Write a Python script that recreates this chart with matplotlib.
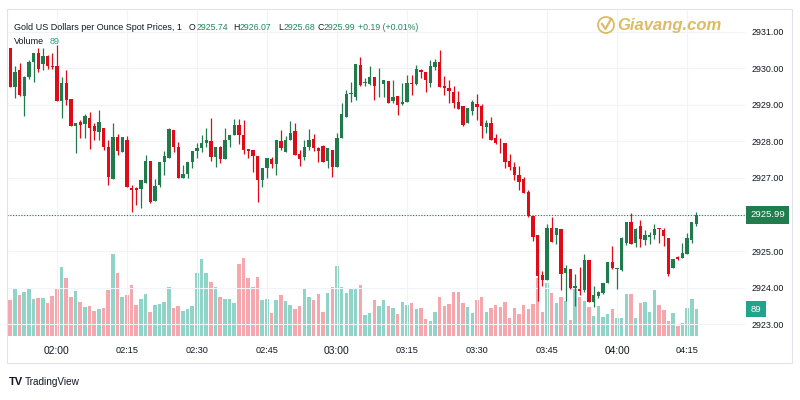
import matplotlib
matplotlib.use("Agg")
import numpy as np
import matplotlib.pyplot as plt
from matplotlib.patches import Circle, Rectangle

plt.rcParams["font.family"] = ["Liberation Sans", "DejaVu Sans"]

# 1-minute candles, 01:50 .. 04:17
opens = [2930.55, 2929.50, 2929.95, 2929.24, 2929.75, 2930.16, 2930.43, 2930.12, 2930.34, 2930.06,
         2930.06, 2929.11, 2929.59, 2929.15, 2928.42, 2928.54, 2928.47, 2928.65, 2928.42, 2928.26,
         2928.36, 2927.84, 2926.96, 2928.13, 2927.72, 2928.05, 2926.73, 2926.73, 2926.69, 2926.85,
         2927.47, 2926.37, 2926.80, 2927.43, 2927.56, 2928.31, 2927.85, 2926.99, 2927.12, 2927.44,
         2927.74, 2927.81, 2927.95, 2928.01, 2927.58, 2927.85, 2927.53, 2928.05, 2928.17, 2928.45,
         2928.17, 2927.80, 2927.76, 2927.60, 2926.94, 2927.26, 2927.53, 2927.38, 2928.01, 2927.72,
         2928.05, 2928.28, 2927.65, 2927.58, 2927.85, 2928.06, 2927.81, 2927.87, 2927.47, 2927.76,
         2927.31, 2928.10, 2928.68, 2929.29, 2929.22, 2930.09, 2929.59, 2929.57, 2929.77, 2929.56,
         2929.56, 2929.66, 2929.11, 2929.24, 2929.02, 2929.07, 2929.60, 2929.57, 2929.94, 2929.89,
         2929.61, 2930.03, 2930.17, 2929.52, 2929.47, 2929.36, 2929.07, 2928.97, 2928.51, 2928.84,
         2929.01, 2928.97, 2928.40, 2928.51, 2928.10, 2927.94, 2927.96, 2927.47, 2927.29, 2927.08,
         2926.96, 2926.61, 2925.95, 2925.43, 2924.34, 2924.20, 2925.64, 2925.45, 2925.60, 2924.40,
         2924.50, 2924.00, 2923.97, 2923.93, 2924.75, 2923.61, 2923.76, 2923.86, 2924.14, 2924.70,
         2924.51, 2924.49, 2925.22, 2925.80, 2925.21, 2925.68, 2925.30, 2925.39, 2925.43, 2925.62,
         2925.59, 2925.37, 2924.55, 2924.84, 2924.80, 2924.91, 2925.30, 2925.74]
highs = [2930.55, 2930.06, 2930.14, 2929.80, 2930.23, 2930.43, 2930.55, 2930.55, 2930.36, 2930.41,
         2930.64, 2929.77, 2929.95, 2929.15, 2928.49, 2928.58, 2928.75, 2928.81, 2928.49, 2928.86,
         2928.36, 2928.04, 2928.51, 2928.20, 2928.11, 2928.16, 2926.80, 2926.76, 2926.94, 2927.63,
         2927.47, 2926.96, 2927.43, 2927.74, 2928.36, 2928.31, 2927.99, 2927.35, 2927.44, 2927.74,
         2927.96, 2928.17, 2928.36, 2928.63, 2927.85, 2927.87, 2928.38, 2928.17, 2928.61, 2928.61,
         2928.58, 2927.80, 2927.76, 2927.60, 2927.26, 2927.56, 2927.58, 2928.05, 2928.31, 2928.15,
         2928.57, 2928.51, 2927.76, 2928.04, 2928.33, 2928.19, 2927.84, 2927.90, 2927.81, 2927.76,
         2928.24, 2929.04, 2929.41, 2929.63, 2930.12, 2930.30, 2929.73, 2930.06, 2929.77, 2930.00,
         2929.68, 2929.66, 2929.68, 2929.24, 2929.59, 2929.82, 2929.82, 2930.09, 2929.97, 2929.89,
         2930.23, 2930.25, 2930.50, 2929.79, 2929.68, 2929.52, 2929.39, 2928.97, 2928.90, 2929.13,
         2929.29, 2929.02, 2928.58, 2928.66, 2928.19, 2928.08, 2927.96, 2927.65, 2927.44, 2927.32,
         2927.03, 2926.67, 2925.95, 2925.43, 2924.47, 2925.74, 2925.94, 2925.64, 2925.60, 2924.61,
         2924.50, 2924.38, 2924.57, 2924.93, 2924.75, 2924.06, 2923.90, 2924.14, 2924.70, 2925.13,
         2924.53, 2925.40, 2925.80, 2926.05, 2925.62, 2925.84, 2925.57, 2925.52, 2925.74, 2925.62,
         2925.62, 2925.37, 2924.79, 2924.86, 2925.22, 2925.50, 2925.80, 2926.07]
lows = [2929.50, 2929.18, 2929.25, 2928.69, 2929.70, 2929.63, 2929.91, 2929.94, 2929.99, 2929.99,
        2929.11, 2928.63, 2929.00, 2928.42, 2927.69, 2928.08, 2928.08, 2927.78, 2928.04, 2928.04,
        2927.76, 2926.80, 2926.96, 2927.63, 2927.70, 2926.76, 2926.07, 2926.26, 2926.19, 2926.85,
        2926.32, 2926.37, 2926.76, 2927.08, 2927.56, 2927.72, 2927.01, 2926.99, 2926.99, 2927.26,
        2927.56, 2927.72, 2927.85, 2927.47, 2927.31, 2927.40, 2927.53, 2927.84, 2928.17, 2927.92,
        2927.65, 2927.56, 2927.17, 2926.35, 2926.76, 2926.99, 2927.27, 2927.08, 2927.76, 2927.72,
        2928.03, 2927.63, 2927.32, 2927.49, 2927.76, 2927.74, 2927.44, 2927.44, 2927.26, 2927.03,
        2927.31, 2928.10, 2928.68, 2929.08, 2929.13, 2929.52, 2929.52, 2929.54, 2929.13, 2929.22,
        2929.22, 2929.04, 2929.04, 2928.72, 2929.00, 2929.07, 2929.27, 2929.55, 2929.73, 2929.34,
        2929.50, 2929.95, 2929.48, 2929.27, 2929.04, 2928.90, 2928.88, 2928.42, 2928.51, 2928.72,
        2928.58, 2928.08, 2928.24, 2928.04, 2927.92, 2927.67, 2927.26, 2927.21, 2926.94, 2926.68,
        2926.58, 2925.94, 2925.28, 2923.63, 2924.06, 2924.20, 2925.25, 2925.19, 2923.93, 2923.65,
        2923.97, 2923.49, 2923.79, 2923.88, 2923.61, 2923.47, 2923.72, 2923.82, 2924.14, 2924.52,
        2923.97, 2924.47, 2925.18, 2925.19, 2925.12, 2925.11, 2925.16, 2925.19, 2925.32, 2925.22,
        2925.13, 2924.32, 2924.55, 2924.77, 2924.80, 2924.91, 2925.23, 2925.68]
closes = [2929.50, 2929.89, 2929.27, 2929.77, 2930.16, 2930.41, 2929.97, 2930.34, 2930.06, 2930.04,
          2929.11, 2929.59, 2929.13, 2928.42, 2928.49, 2928.45, 2928.69, 2928.38, 2928.29, 2928.54,
          2927.85, 2927.03, 2928.11, 2927.74, 2928.11, 2926.76, 2926.67, 2926.67, 2926.94, 2927.47,
          2926.35, 2926.78, 2927.43, 2927.61, 2928.33, 2927.85, 2927.01, 2927.12, 2927.44, 2927.74,
          2927.82, 2927.95, 2928.04, 2927.58, 2927.85, 2927.53, 2928.05, 2928.17, 2928.45, 2928.17,
          2927.76, 2927.74, 2927.60, 2926.94, 2927.26, 2927.56, 2927.38, 2928.05, 2927.81, 2928.04,
          2928.22, 2927.63, 2927.53, 2927.85, 2928.04, 2927.81, 2927.74, 2927.44, 2927.81, 2927.29,
          2928.10, 2928.75, 2929.30, 2929.31, 2930.12, 2929.54, 2929.63, 2929.75, 2929.52, 2929.57,
          2929.68, 2929.06, 2929.21, 2928.99, 2929.09, 2929.61, 2929.58, 2929.97, 2929.89, 2929.68,
          2930.06, 2930.16, 2929.48, 2929.45, 2929.39, 2929.06, 2928.89, 2928.45, 2928.90, 2929.07,
          2928.95, 2928.42, 2928.49, 2928.04, 2927.95, 2927.92, 2927.44, 2927.29, 2927.08, 2926.89,
          2926.58, 2925.95, 2925.39, 2924.31, 2924.20, 2925.64, 2925.25, 2925.62, 2924.38, 2924.54,
          2924.00, 2924.06, 2923.91, 2924.77, 2923.61, 2923.79, 2923.88, 2924.14, 2924.70, 2924.54,
          2924.53, 2925.35, 2925.80, 2925.19, 2925.60, 2925.32, 2925.43, 2925.43, 2925.60, 2925.60,
          2925.41, 2924.38, 2924.79, 2924.79, 2924.95, 2925.37, 2925.80, 2925.99]
volumes = [119, 157, 135, 144, 157, 121, 124, 124, 108, 132,
           157, 229, 190, 130, 149, 111, 94, 99, 83, 88,
           91, 152, 270, 209, 128, 135, 168, 102, 121, 139,
           79, 101, 106, 112, 161, 91, 99, 83, 88, 100,
           209, 254, 209, 177, 161, 128, 121, 121, 108, 237,
           256, 190, 161, 194, 119, 121, 75, 119, 135, 116,
           102, 88, 99, 154, 128, 119, 139, 79, 141, 163,
           232, 161, 141, 157, 154, 168, 69, 75, 119, 99,
           119, 99, 91, 73, 111, 102, 108, 88, 91, 57,
           51, 80, 130, 99, 104, 144, 146, 110, 95, 77,
           119, 130, 80, 91, 102, 97, 113, 58, 91, 73,
           102, 88, 106, 190, 80, 176, 143, 108, 128, 117,
           53, 158, 128, 117, 97, 66, 99, 64, 73, 88,
           60, 60, 139, 139, 60, 110, 113, 79, 152, 102,
           86, 51, 77, 33, 44, 91, 121, 89]

start_time = "01:50"
tick_labels = ["02:00", "02:15", "02:30", "02:45", "03:00", "03:15", "03:30", "03:45", "04:00", "04:15"]
price_ticks = [2923, 2924, 2925, 2926, 2927, 2928, 2929, 2930, 2931]

UP, DOWN = "#1f7a4c", "#e00b16"
VOL_UP, VOL_DOWN = "#8fd4c6", "#f6a6ad"
GRID, BORDER, TXT = "#f0f3fa", "#e0e3eb", "#131722"
VALUE_GREEN = "#23855a"


def to_min(s):
    hh, mm = s.split(":")
    return int(hh) * 60 + int(mm)


o = np.array(opens)
h = np.array(highs)
l = np.array(lows)
c = np.array(closes)
v = np.array(volumes)
x = np.arange(len(o))
up = c >= o
colors = np.where(up, UP, DOWN)
vol_colors = np.where(up, VOL_UP, VOL_DOWN)
tick_pos = [to_min(t) - to_min(start_time) for t in tick_labels]

fig = plt.figure(figsize=(8, 4), dpi=100)
W, H = 800, 400
left, right, top, bottom = 7, 745, 9, 336
rect = [left / W, 1 - bottom / H, (right - left) / W, (bottom - top) / H]

# candle spacing in pixels, first candle centre at x=10.3
step, x0 = 4.667, 10.3
xlim = ((left - x0) / step, (right - x0) / step)

axv = fig.add_axes(rect)
axv.bar(x, v, width=0.78, color=vol_colors, linewidth=0)
axv.set_xlim(*xlim)
axv.set_ylim(0, 1078)
axv.axis("off")

ax = fig.add_axes(rect)
ax.patch.set_visible(False)
ax.vlines(x, l, h, colors=colors, linewidth=0.9, zorder=3)
ax.bar(x, np.maximum(np.abs(c - o), 0.012), bottom=np.minimum(o, c), width=0.66,
       color=colors, linewidth=0, zorder=4)
ax.set_xlim(*xlim)
ax.set_ylim(2922.68, 2931.62)
for s in ax.spines.values():
    s.set_visible(False)
ax.yaxis.tick_right()
ax.set_yticks(price_ticks)
# the 2926 label sits under the last-price tag, so it is left blank
ax.set_yticklabels(["" if abs(p - c[-1]) < 0.3 else f"{p:.2f}" for p in price_ticks])
ax.tick_params(axis="y", length=0, pad=5, labelsize=6.4, labelcolor=TXT)
ax.set_xticks(tick_pos)
ax.set_xticklabels(tick_labels)
ax.tick_params(axis="x", length=0, pad=7, labelsize=6.6, labelcolor=TXT)
for lab in ax.get_xticklabels():
    if lab.get_text().endswith(":00"):
        lab.set_fontsize(7.4)
ax.grid(True, color=GRID, linewidth=0.8, zorder=0)
ax.axhline(c[-1], color=UP, linestyle=(0, (1, 1.5)), linewidth=0.8, zorder=2)

# overlay in pixel coordinates for labels and frame
ov = fig.add_axes([0, 0, 1, 1])
ov.set_xlim(0, W)
ov.set_ylim(H, 0)
ov.axis("off")
ov.patch.set_visible(False)
ov.add_patch(Rectangle((left, top), 792 - left, 363 - top, fill=False, ec=BORDER, lw=0.8))

# header
ov.text(14, 27, "Gold US Dollars per Ounce Spot Prices, 1", fontsize=6.5, color=TXT, va="center")
for px, letter, val in [(189, "O", o[-1]), (233, "H", h[-1]), (278, "L", l[-1]), (317, "C", c[-1])]:
    t = ov.text(px, 27, letter, fontsize=6.3, color=TXT, va="center")
    ov.annotate(f"{val:.2f}", xy=(1, 0.5), xycoords=t, xytext=(0.4, 0), textcoords="offset points",
                ha="left", va="center", fontsize=6.3, color=VALUE_GREEN)
chg = c[-1] - c[-2]
ov.text(358, 27, f"{chg:+.2f} ({chg / c[-2] * 100:+.2f}%)", fontsize=6.3, color=VALUE_GREEN, va="center")
tv = ov.text(14, 42, "Volume", fontsize=6.5, color=TXT, va="center")
ov.annotate(f"{v[-1]}", xy=(1, 0.5), xycoords=tv, xytext=(4, 0), textcoords="offset points",
            ha="left", va="center", fontsize=6.5, color="#22a38c")

# watermark
gold = "#d6b04a"
ov.add_patch(Circle((606, 25), 8, fill=False, ec=gold, lw=1.3, alpha=0.85))
ov.plot([602, 605.5, 611], [24, 29, 19], color=gold, lw=1.6, alpha=0.85)
ov.text(617, 25.5, "Giavang.com", fontsize=12, fontweight="bold", fontstyle="italic",
        color=gold, alpha=0.85, va="center")

# last price / volume tags
py = H - ax.transData.transform((0, c[-1]))[1]
ov.add_patch(Rectangle((745.7, py - 8.8), 43.6, 17.6, color="#217d4e", lw=0))
ov.text(767.5, py, f"{c[-1]:.2f}", fontsize=6.8, color="white", ha="center", va="center")
vy = H - axv.transData.transform((0, v[-1]))[1]
ov.add_patch(Rectangle((745.7, vy - 8.3), 20, 16.6, color="#22a38c", lw=0))
ov.text(755.7, vy, f"{v[-1]}", fontsize=6.8, color="white", ha="center", va="center")

# footer
ov.text(9, 382, "TV", fontsize=8, fontweight="heavy", color="#131722", va="center")
ov.text(25, 382, "TradingView", fontsize=7.2, color="#131722", va="center")

fig.savefig("out.png", dpi=100)
